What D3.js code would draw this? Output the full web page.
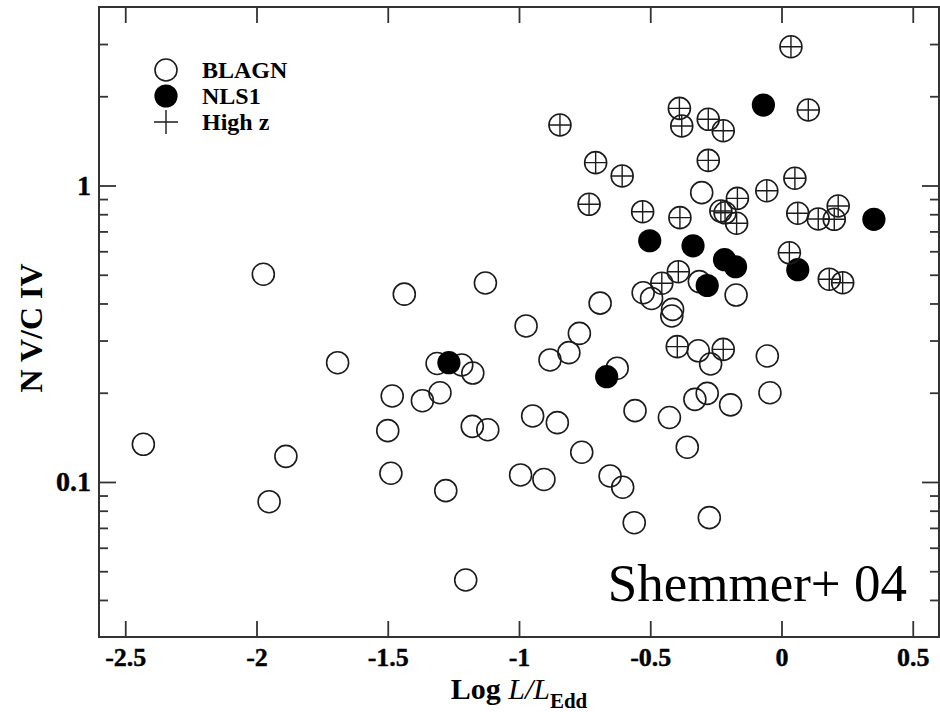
<!DOCTYPE html>
<html>
<head>
<meta charset="utf-8">
<script src="https://cdn.jsdelivr.net/npm/d3@7"></script>
<style>
  html, body { margin: 0; padding: 0; background: #fff; }
  svg { display: block; }
  text { font-family: "Liberation Serif", "Times New Roman", serif; }
</style>
</head>
<body>
<svg id="chart" width="940" height="712"></svg>
<script>
// Broad-line AGN (open circles)
const blagnX = [-2.431, -1.974, -1.952, -1.888, -1.691, -1.483, -1.500, -1.488, -1.437, -1.368,
                -1.301, -1.312, -1.279, -1.218, -1.176, -1.178, -1.119, -1.128, -1.203, -0.994,
                -0.948, -0.973, -0.905, -0.882, -0.854, -0.810, -0.770, -0.761, -0.691, -0.653,
                -0.626, -0.605, -0.558, -0.561, -0.527, -0.495, -0.427, -0.415, -0.418, -0.359,
                -0.317, -0.313, -0.330, -0.283, -0.275, -0.270, -0.194, -0.173, -0.054, -0.044,
                -0.304];
const blagnY = [0.134, 0.502, 0.0858, 0.122, 0.2525, 0.195, 0.149, 0.107, 0.430, 0.188,
                0.200, 0.251, 0.0935, 0.248, 0.233, 0.154, 0.150, 0.469, 0.0467, 0.1056,
                0.167, 0.336, 0.102, 0.258, 0.1585, 0.273, 0.317, 0.126, 0.401, 0.1048,
                0.242, 0.096, 0.174, 0.0729, 0.435, 0.416, 0.165, 0.382, 0.363, 0.131,
                0.277, 0.474, 0.190, 0.199, 0.0758, 0.250, 0.182, 0.427, 0.266, 0.200,
                0.946];

// Narrow-line Seyfert 1s (filled circles)
const nls1X = [-1.267, -0.666, -0.502, -0.337, -0.217, -0.175, -0.283, 0.062, -0.069, 0.352];
const nls1Y = [0.2525, 0.2265, 0.651, 0.626, 0.562, 0.532, 0.460, 0.520, 1.868, 0.769];

// High-redshift quasars (circle with cross)
const highzX = [0.036, 0.102, -0.389, -0.380, -0.279, -0.222, -0.844, -0.708, -0.607, -0.279,
                -0.733, -0.529, -0.387, -0.215, -0.231, -0.171, -0.168, -0.056, 0.051, 0.062,
                0.140, 0.216, 0.201, 0.030, 0.182, 0.233, -0.393, -0.456, -0.397, -0.222];
const highzY = [2.938, 1.797, 1.820, 1.588, 1.672, 1.530, 1.600, 1.194, 1.077, 1.215,
                0.864, 0.816, 0.779, 0.809, 0.820, 0.746, 0.905, 0.960, 1.058, 0.806,
                0.771, 0.853, 0.769, 0.593, 0.483, 0.470, 0.512, 0.468, 0.286, 0.280];

const xTicks = [-2.5, -2, -1.5, -1, -0.5, 0, 0.5];
const xTickLabels = ["-2.5", "-2", "-1.5", "-1", "-0.5", "0", "0.5"];
const yMajorTicks = [0.1, 1];
const yMajorLabels = ["0.1", "1"];
const yMinorTicks = [0.04, 0.05, 0.06, 0.07, 0.08, 0.09,
                     0.2, 0.3, 0.4, 0.5, 0.6, 0.7, 0.8, 0.9, 2, 3];

const legendItems = ["BLAGN", "NLS1", "High z"];

const svg = d3.select("#chart");
const plotL = 99, plotR = 939, plotT = 7, plotB = 637;

const x = d3.scaleLinear().domain([-2.6, 0.6]).range([plotL, plotR]);
const y = d3.scaleLog().domain([0.03, 4]).range([plotB, plotT]);

const axisColor = "#333";
const markColor = "#1b1b1b";
const R = 11;

// ---- axes ----
const fmtX = d => xTickLabels[xTicks.indexOf(d)];
const fmtY = d => yMajorLabels[yMajorTicks.indexOf(d)];

function styleAxis(size) {
  return g => {
    g.select(".domain").remove();
    g.selectAll(".tick line").attr("stroke", axisColor).attr("stroke-width", 1.8);
    g.selectAll(".tick text")
      .attr("fill", "#000")
      .attr("stroke", "#000").attr("stroke-width", 0.4)
      .style("font-family", '"Liberation Serif", serif')
      .style("font-weight", "bold")
      .style("font-size", size + "px");
  };
}

svg.append("g").attr("transform", `translate(0,${plotB})`)
  .call(d3.axisBottom(x).tickValues(xTicks).tickFormat(fmtX).tickSize(-16).tickSizeOuter(0).tickPadding(11))
  .call(styleAxis(26));
svg.append("g").attr("transform", `translate(0,${plotT})`)
  .call(d3.axisTop(x).tickValues(xTicks).tickFormat("").tickSize(-16).tickSizeOuter(0))
  .call(styleAxis(26));

svg.append("g").attr("transform", `translate(${plotL},0)`)
  .call(d3.axisLeft(y).tickValues(yMajorTicks).tickFormat(fmtY).tickSize(-17).tickSizeOuter(0).tickPadding(8))
  .call(styleAxis(28));
svg.append("g").attr("transform", `translate(${plotL},0)`)
  .call(d3.axisLeft(y).tickValues(yMinorTicks).tickFormat("").tickSize(-9).tickSizeOuter(0))
  .call(styleAxis(28));
svg.append("g").attr("transform", `translate(${plotR},0)`)
  .call(d3.axisRight(y).tickValues(yMajorTicks).tickFormat("").tickSize(-17).tickSizeOuter(0))
  .call(styleAxis(28));
svg.append("g").attr("transform", `translate(${plotR},0)`)
  .call(d3.axisRight(y).tickValues(yMinorTicks).tickFormat("").tickSize(-9).tickSizeOuter(0))
  .call(styleAxis(28));

// frame
svg.append("rect")
  .attr("x", plotL).attr("y", plotT)
  .attr("width", plotR - plotL).attr("height", plotB - plotT)
  .attr("fill", "none").attr("stroke", axisColor).attr("stroke-width", 2);

// ---- markers ----
const blagn = blagnX.map((v, i) => [v, blagnY[i]]);
const nls1 = nls1X.map((v, i) => [v, nls1Y[i]]);
const highz = highzX.map((v, i) => [v, highzY[i]]);

const plot = svg.append("g");

plot.selectAll("circle.blagn").data(blagn).join("circle")
  .attr("class", "blagn")
  .attr("cx", d => x(d[0])).attr("cy", d => y(d[1])).attr("r", R)
  .attr("fill", "none").attr("stroke", markColor).attr("stroke-width", 1.6);

plot.selectAll("circle.nls1").data(nls1).join("circle")
  .attr("class", "nls1")
  .attr("cx", d => x(d[0])).attr("cy", d => y(d[1])).attr("r", R + 0.6)
  .attr("fill", "#000").attr("stroke", "none");

const hz = plot.selectAll("g.highz").data(highz).join("g")
  .attr("class", "highz")
  .attr("transform", d => `translate(${x(d[0])},${y(d[1])})`);
hz.append("circle").attr("r", R)
  .attr("fill", "none").attr("stroke", markColor).attr("stroke-width", 1.6);
hz.append("path").attr("d", `M${-R},0H${R}M0,${-R}V${R}`)
  .attr("stroke", markColor).attr("stroke-width", 1.4);

// ---- legend ----
const lg = svg.append("g");
const lx = 166, ly0 = 70, lstep = 26;
lg.append("circle").attr("cx", lx).attr("cy", ly0).attr("r", R)
  .attr("fill", "none").attr("stroke", markColor).attr("stroke-width", 1.6);
lg.append("circle").attr("cx", lx).attr("cy", ly0 + lstep).attr("r", R + 0.6)
  .attr("fill", "#000");
lg.append("path").attr("d", `M${lx - 12},${ly0 + 2 * lstep}H${lx + 12}M${lx},${ly0 + 2 * lstep - 12}V${ly0 + 2 * lstep + 12}`)
  .attr("stroke", markColor).attr("stroke-width", 1.4);
lg.selectAll("text").data(legendItems).join("text")
  .attr("x", 202).attr("y", (d, i) => ly0 + 8 + i * lstep)
  .style("font-weight", "bold").style("font-size", "24px")
  .attr("fill", "#000")
  .text(d => d);

// ---- axis titles ----
svg.append("text")
  .attr("transform", "translate(42,328) rotate(-90)")
  .attr("text-anchor", "middle")
  .style("font-weight", "bold").style("font-size", "32px")
  .text("N V/C IV");

const xt = svg.append("text")
  .attr("x", (plotL + plotR) / 2).attr("y", 699)
  .attr("text-anchor", "middle")
  .style("font-size", "30px");
xt.append("tspan").style("font-weight", "bold").text("Log ");
xt.append("tspan").style("font-style", "italic").text("L/L");
xt.append("tspan").attr("dy", 9).style("font-weight", "bold").style("font-size", "21px").text("Edd");

// annotation
svg.append("text")
  .attr("x", 907).attr("y", 601)
  .attr("text-anchor", "end")
  .style("font-size", "53px")
  .text("Shemmer+ 04");
</script>
</body>
</html>
